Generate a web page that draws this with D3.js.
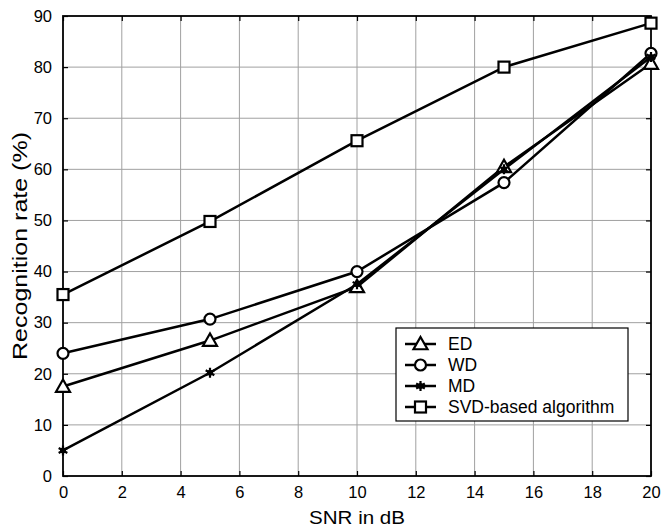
<!DOCTYPE html>
<html><head><meta charset="utf-8">
<script src="https://cdn.jsdelivr.net/npm/d3@7"></script>
<style>body{margin:0;background:#fff}svg{display:block}text{font-family:"Liberation Sans",Arial,sans-serif;fill:#000}</style>
</head><body><svg id="c" width="662" height="531"></svg>
<script>
const snr = [0, 5, 10, 15, 20];
const seriesNames = ["ED", "WD", "MD", "SVD-based algorithm"];
const ed = [17.5, 26.5, 37, 60.5, 80.7];
const wd = [24, 30.7, 40, 57.4, 82.7];
const md = [5, 20.2, 37.5, 60, 82];
const svd = [35.5, 49.8, 65.6, 80, 88.6];
const xTicks = [0, 2, 4, 6, 8, 10, 12, 14, 16, 18, 20];
const yTicks = [0, 10, 20, 30, 40, 50, 60, 70, 80, 90];
const xLabel = "SNR in dB";
const yLabel = "Recognition rate (%)";

const series = [
  {name: seriesNames[0], values: ed, marker: "tri"},
  {name: seriesNames[1], values: wd, marker: "circ"},
  {name: seriesNames[2], values: md, marker: "star"},
  {name: seriesNames[3], values: svd, marker: "sq"}
];

const L = 63, R = 651, T = 16, B = 476;
const svg = d3.select("#c");
const x = d3.scaleLinear().domain([0, 20]).range([L, R]);
const y = d3.scaleLinear().domain([0, 90]).range([B, T]);

// grid
const g = svg.append("g");
g.selectAll(".gx").data(xTicks.slice(1, -1)).enter().append("line")
  .attr("x1", d => x(d)).attr("x2", d => x(d)).attr("y1", T).attr("y2", B)
  .attr("stroke", "#a0a0a0").attr("stroke-width", 1);
g.selectAll(".gy").data(yTicks.slice(1, -1)).enter().append("line")
  .attr("y1", d => y(d)).attr("y2", d => y(d)).attr("x1", L).attr("x2", R)
  .attr("stroke", "#a0a0a0").attr("stroke-width", 1);

// axes (inner ticks)
const tl = 5;
svg.append("g").attr("transform", `translate(0,${B})`)
  .call(d3.axisBottom(x).tickValues(xTicks).tickSizeInner(-tl).tickSizeOuter(0).tickPadding(10))
  .call(a => a.select(".domain").remove())
  .call(a => a.selectAll("text").attr("font-size", 16.5).attr("font-family", "Liberation Sans, Arial"));
svg.append("g").attr("transform", `translate(0,${T})`)
  .call(d3.axisTop(x).tickValues(xTicks).tickSizeInner(-tl).tickSizeOuter(0).tickFormat(""))
  .call(a => a.select(".domain").remove());
svg.append("g").attr("transform", `translate(${L},0)`)
  .call(d3.axisLeft(y).tickValues(yTicks).tickSizeInner(-tl).tickSizeOuter(0).tickPadding(11))
  .call(a => a.select(".domain").remove())
  .call(a => a.selectAll("text").attr("font-size", 16.5).attr("font-family", "Liberation Sans, Arial"));
svg.append("g").attr("transform", `translate(${R},0)`)
  .call(d3.axisRight(y).tickValues(yTicks).tickSizeInner(-tl).tickSizeOuter(0).tickFormat(""))
  .call(a => a.select(".domain").remove());
svg.selectAll(".tick line").attr("stroke", "#000").attr("stroke-width", 1.2);

svg.append("rect").attr("x", L).attr("y", T).attr("width", R - L).attr("height", B - T)
  .attr("fill", "none").attr("stroke", "#000").attr("stroke-width", 1.8);

// markers
function drawMarker(sel, type, cx, cy) {
  if (type === "tri") {
    const s = 7;
    sel.append("path").attr("d", `M${cx},${cy - s} L${cx + s},${cy + s * 0.75} L${cx - s},${cy + s * 0.75} Z`)
      .attr("fill", "#fff").attr("stroke", "#000").attr("stroke-width", 2.2);
  } else if (type === "circ") {
    sel.append("circle").attr("cx", cx).attr("cy", cy).attr("r", 5.5)
      .attr("fill", "#fff").attr("stroke", "#000").attr("stroke-width", 2.2);
  } else if (type === "sq") {
    sel.append("rect").attr("x", cx - 5.5).attr("y", cy - 5.5).attr("width", 11).attr("height", 11)
      .attr("fill", "#fff").attr("stroke", "#000").attr("stroke-width", 2.2);
  } else {
    sel.append("path").attr("d", d3.symbol().type(d3.symbolAsterisk).size(70)())
      .attr("transform", `translate(${cx},${cy})`)
      .attr("fill", "none").attr("stroke", "#000").attr("stroke-width", 2.2);
    sel.append("circle").attr("cx", cx).attr("cy", cy).attr("r", 3).attr("fill", "#000");
  }
}

const line = d3.line().x((d, i) => x(snr[i])).y(d => y(d));
series.forEach(s => {
  svg.append("path").datum(s.values).attr("d", line)
    .attr("fill", "none").attr("stroke", "#000").attr("stroke-width", 2.5);
});
series.forEach(s => {
  const mg = svg.append("g");
  s.values.forEach((v, i) => drawMarker(mg, s.marker, x(snr[i]), y(v)));
});

// legend
const lg = svg.append("g");
lg.append("rect").attr("x", 396).attr("y", 328).attr("width", 232).attr("height", 93)
  .attr("fill", "#fff").attr("stroke", "#000").attr("stroke-width", 1.2);
series.forEach((s, i) => {
  const ly = 344 + i * 21;
  lg.append("line").attr("x1", 405).attr("x2", 436).attr("y1", ly).attr("y2", ly)
    .attr("stroke", "#000").attr("stroke-width", 2.5);
  drawMarker(lg, s.marker, 420.5, ly);
  lg.append("text").attr("x", 448).attr("y", ly + 6).attr("font-size", 17.5).text(s.name);
});

// axis titles
svg.append("text").attr("x", (L + R) / 2).attr("y", 524).attr("text-anchor", "middle")
  .attr("font-size", 19).attr("textLength", 96).attr("lengthAdjust", "spacingAndGlyphs").text(xLabel);
svg.append("text").attr("transform", `translate(27,${(T + B) / 2}) rotate(-90)`)
  .attr("text-anchor", "middle").attr("font-size", 19.5)
  .attr("textLength", 228).attr("lengthAdjust", "spacingAndGlyphs").text(yLabel);
</script></body></html>
